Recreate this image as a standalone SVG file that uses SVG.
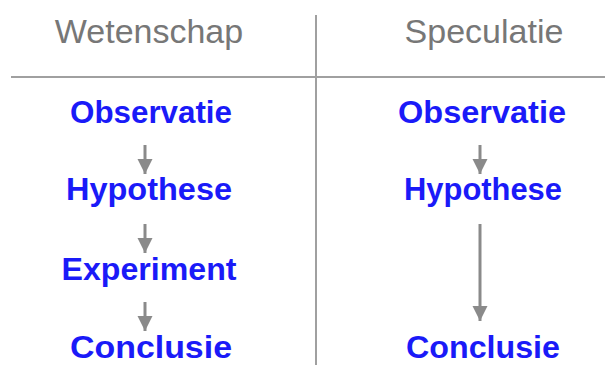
<svg xmlns="http://www.w3.org/2000/svg" width="605" height="365" viewBox="0 0 605 365">
<style>
.hdr{font-family:"Liberation Sans",Arial,sans-serif;font-size:34px;fill:#777777;text-anchor:middle}
.node{font-family:"Liberation Sans",Arial,sans-serif;font-size:32px;font-weight:bold;fill:#1a1af8;text-anchor:middle}
.rule{stroke:#a0a0a0;stroke-width:2;fill:none}
.conn{stroke:#8a8a8a;stroke-width:3;fill:none}
</style>
<defs>
<marker id="ah" viewBox="0 0 10 10" refX="10" refY="5" markerWidth="5" markerHeight="5.5" markerUnits="strokeWidth" orient="auto">
<path d="M0,0 L10,5 L0,10 z" fill="#8a8a8a"/>
</marker>
</defs>
<rect width="605" height="365" fill="#ffffff"/>
<g id="grid">
<line class="rule" x1="316" y1="15" x2="316" y2="365"/>
<line class="rule" x1="11" y1="77" x2="605" y2="77"/>
</g>
<g id="headers">
<text class="hdr" x="149" y="43">Wetenschap</text>
<text class="hdr" x="484" y="43">Speculatie</text>
</g>
<g id="connectors">
<line class="conn" x1="145" y1="145" x2="145" y2="174" marker-end="url(#ah)"/>
<line class="conn" x1="145" y1="224" x2="145" y2="253" marker-end="url(#ah)"/>
<line class="conn" x1="145" y1="302" x2="145" y2="331" marker-end="url(#ah)"/>
<line class="conn" x1="480" y1="145" x2="480" y2="174" marker-end="url(#ah)"/>
<line class="conn" x1="480" y1="224" x2="480" y2="321" marker-end="url(#ah)"/>
</g>
<g id="w-observatie"><text class="node" x="151" y="123" textLength="162" lengthAdjust="spacingAndGlyphs">Observatie</text></g>
<g id="w-hypothese"><text class="node" x="149" y="200" textLength="166" lengthAdjust="spacingAndGlyphs">Hypothese</text></g>
<g id="w-experiment"><text class="node" x="149" y="280" textLength="175" lengthAdjust="spacingAndGlyphs">Experiment</text></g>
<g id="w-conclusie"><text class="node" x="151" y="358" textLength="162" lengthAdjust="spacingAndGlyphs">Conclusie</text></g>
<g id="s-observatie"><text class="node" x="482" y="123" textLength="168" lengthAdjust="spacingAndGlyphs">Observatie</text></g>
<g id="s-hypothese"><text class="node" x="483" y="200" textLength="158" lengthAdjust="spacingAndGlyphs">Hypothese</text></g>
<g id="s-conclusie"><text class="node" x="483" y="358" textLength="154" lengthAdjust="spacingAndGlyphs">Conclusie</text></g>
</svg>
